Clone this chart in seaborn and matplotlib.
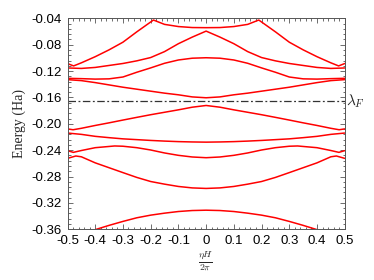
import matplotlib
matplotlib.use("Agg")
import matplotlib.pyplot as plt
import seaborn as sns
import pandas as pd
from matplotlib.ticker import MultipleLocator, FixedLocator

# ---- data ----
x_b1 = [-0.5, -0.478, -0.45, -0.4, -0.35, -0.3, -0.25, -0.19, -0.15, -0.1, -0.05, 0.0,
        0.05, 0.1, 0.15, 0.19, 0.25, 0.3, 0.35, 0.4, 0.45, 0.478, 0.5]
y_b1 = [-0.1086, -0.1122, -0.1075, -0.0982, -0.0878, -0.0762, -0.0605, -0.0426, -0.0492, -0.0525, -0.0540, -0.0542,
        -0.0540, -0.0525, -0.0492, -0.0426, -0.0605, -0.0762, -0.0878, -0.0982, -0.1075, -0.1122, -0.1086]

x_std = [-0.5, -0.45, -0.4, -0.35, -0.3, -0.25, -0.2, -0.15, -0.1, -0.05, 0.0,
         0.05, 0.1, 0.15, 0.2, 0.25, 0.3, 0.35, 0.4, 0.45, 0.5]
y_b2 = [-0.1153, -0.1160, -0.1145, -0.1115, -0.1085, -0.1045, -0.0995, -0.0905, -0.0785, -0.0685, -0.0594,
        -0.0685, -0.0785, -0.0905, -0.0995, -0.1045, -0.1085, -0.1115, -0.1145, -0.1160, -0.1153]
y_b3 = [-0.1310, -0.1315, -0.1322, -0.1318, -0.1290, -0.1218, -0.1152, -0.1082, -0.1032, -0.1005, -0.0998,
        -0.1005, -0.1032, -0.1082, -0.1152, -0.1218, -0.1290, -0.1318, -0.1322, -0.1315, -0.1310]
y_b4 = [-0.1330, -0.1345, -0.1375, -0.1410, -0.1445, -0.1475, -0.1505, -0.1535, -0.1560, -0.1592, -0.1605,
        -0.1592, -0.1560, -0.1535, -0.1505, -0.1475, -0.1445, -0.1410, -0.1375, -0.1345, -0.1330]
y_b6 = [-0.2140, -0.2160, -0.2190, -0.2210, -0.2228, -0.2240, -0.2252, -0.2262, -0.2270, -0.2275, -0.2278,
        -0.2275, -0.2270, -0.2262, -0.2252, -0.2240, -0.2228, -0.2210, -0.2190, -0.2160, -0.2140]

x_b5 = [-0.5, -0.48, -0.45, -0.4, -0.35, -0.3, -0.25, -0.2, -0.15, -0.1, -0.05, 0.0,
        0.05, 0.1, 0.15, 0.2, 0.25, 0.3, 0.35, 0.4, 0.45, 0.48, 0.5]
y_b5 = [-0.2077, -0.2090, -0.2068, -0.2025, -0.1985, -0.1943, -0.1902, -0.1862, -0.1825, -0.1788, -0.1748, -0.1722,
        -0.1748, -0.1788, -0.1825, -0.1862, -0.1902, -0.1943, -0.1985, -0.2025, -0.2068, -0.2090, -0.2077]

x_b7 = [-0.5, -0.479, -0.45, -0.4, -0.33, -0.3, -0.25, -0.2, -0.15, -0.1, -0.05, 0.0,
        0.05, 0.1, 0.15, 0.2, 0.25, 0.3, 0.33, 0.4, 0.45, 0.479, 0.5]
y_b7 = [-0.2407, -0.2433, -0.2405, -0.2362, -0.2336, -0.2340, -0.2362, -0.2397, -0.2442, -0.2478, -0.2503, -0.2514,
        -0.2503, -0.2478, -0.2442, -0.2397, -0.2362, -0.2340, -0.2336, -0.2362, -0.2405, -0.2433, -0.2407]

x_b8 = [-0.5, -0.47, -0.45, -0.4, -0.35, -0.3, -0.25, -0.2, -0.15, -0.1, -0.05, 0.0,
        0.05, 0.1, 0.15, 0.2, 0.25, 0.3, 0.35, 0.4, 0.45, 0.47, 0.5]
y_b8 = [-0.2524, -0.2488, -0.2500, -0.2592, -0.2666, -0.2740, -0.2813, -0.2875, -0.2915, -0.2950, -0.2972, -0.2980,
        -0.2972, -0.2950, -0.2915, -0.2875, -0.2813, -0.2740, -0.2666, -0.2592, -0.2500, -0.2488, -0.2524]

x_b9 = [-0.4, -0.35, -0.3, -0.25, -0.2, -0.15, -0.1, -0.05, 0.0, 0.05, 0.1, 0.15, 0.2, 0.25, 0.3, 0.35, 0.4]
y_b9 = [-0.3605, -0.3540, -0.3480, -0.3425, -0.3385, -0.3355, -0.3330, -0.3315, -0.3310,
        -0.3315, -0.3330, -0.3355, -0.3385, -0.3425, -0.3480, -0.3540, -0.3605]

fermi_level = -0.166
x_ticks = [-0.5, -0.4, -0.3, -0.2, -0.1, 0.0, 0.1, 0.2, 0.3, 0.4, 0.5]
x_ticklabels = ["-0.5", "-0.4", "-0.3", "-0.2", "-0.1", "0", "0.1", "0.2", "0.3", "0.4", "0.5"]
y_ticks = [-0.04, -0.08, -0.12, -0.16, -0.20, -0.24, -0.28, -0.32, -0.36]
y_ticklabels = ["-0.04", "-0.08", "-0.12", "-0.16", "-0.20", "-0.24", "-0.28", "-0.32", "-0.36"]

bands = [
    ("b1", x_b1, y_b1), ("b2", x_std, y_b2), ("b3", x_std, y_b3), ("b4", x_std, y_b4),
    ("b5", x_b5, y_b5), ("b6", x_std, y_b6), ("b7", x_b7, y_b7), ("b8", x_b8, y_b8),
    ("b9", x_b9, y_b9),
]
rows = []
for name, xs, ys in bands:
    for xv, yv in zip(xs, ys):
        rows.append({"band": name, "x": xv, "E": yv})
df = pd.DataFrame(rows)

# ---- plot ----
sns.set_theme(style="white")
plt.rcParams["font.family"] = ["Liberation Sans", "DejaVu Sans"]
plt.rcParams["mathtext.fontset"] = "cm"

fig = plt.figure(figsize=(3.74, 2.80), dpi=100)
ax = fig.add_axes([0.1805, 0.181, 0.9217 - 0.1805, 0.9346 - 0.181])

sns.lineplot(data=df, x="x", y="E", units="band", estimator=None, sort=False,
             color="#ff0000", linewidth=1.1, ax=ax, legend=False)

ax.axhline(fermi_level, color="#333333", linestyle=(0, (6, 2, 1.5, 2)), linewidth=0.9)
ax.text(0.503, fermi_level, r"$\lambda_F$", fontsize=11, va="center", ha="left",
        transform=ax.transData, clip_on=False)

ax.set_xlim(-0.5, 0.5)
ax.set_ylim(-0.36, -0.04)
ax.xaxis.set_major_locator(FixedLocator(x_ticks))
ax.set_xticklabels(x_ticklabels)
ax.yaxis.set_major_locator(FixedLocator(y_ticks))
ax.set_yticklabels(y_ticklabels)
ax.xaxis.set_minor_locator(MultipleLocator(0.02))
ax.yaxis.set_minor_locator(MultipleLocator(0.008))

ax.tick_params(which="both", direction="in", top=True, right=True, bottom=True, left=True,
               color="#555555", width=0.6)
ax.tick_params(which="major", length=3.5, labelsize=9.5, pad=4, labelcolor="black")
ax.tick_params(which="minor", length=1.8)
for s in ax.spines.values():
    s.set_color("#555555")
    s.set_linewidth(0.7)

ax.set_ylabel("Energy (Ha)", fontsize=10, family=["Liberation Serif"], labelpad=4)
ax.set_xlabel(r"$\frac{\eta H}{2\pi}$", fontsize=10, labelpad=2)

fig.savefig("out.png", dpi=100)
